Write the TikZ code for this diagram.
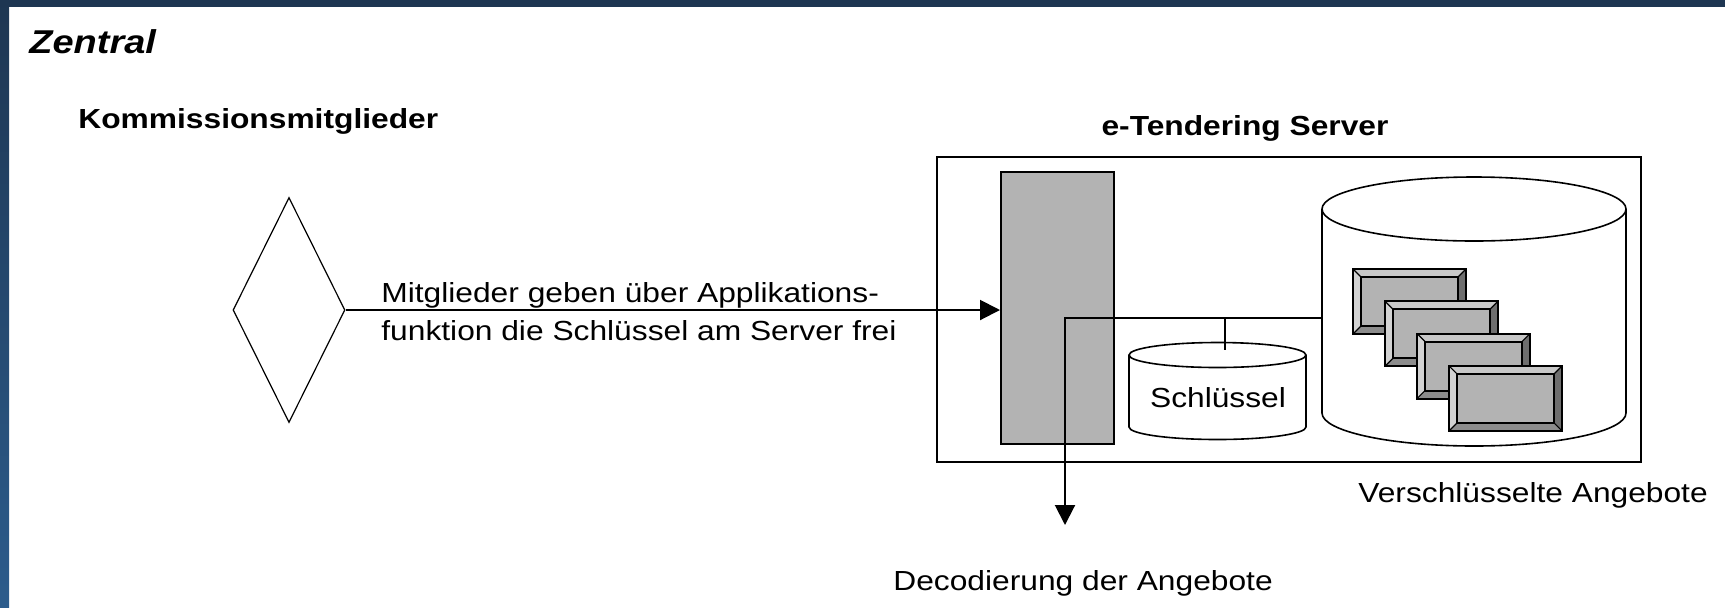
\documentclass[tikz,border=0pt]{standalone}
\usepackage{fontspec}
\setmainfont{Liberation Sans}[FakeStretch=1.15]
\usepackage{tikz}
\usetikzlibrary{arrows.meta,shapes.geometric}

\definecolor{framedark}{HTML}{1E3652}
\definecolor{framelight}{HTML}{2C5C8C}
\definecolor{bargray}{HTML}{B3B3B3}
\definecolor{doctop}{HTML}{C8C8C8}
\definecolor{docleft}{HTML}{D2D2D2}
\definecolor{docright}{HTML}{6E6E6E}
\definecolor{docbottom}{HTML}{8C8C8C}

\tikzset{
  lbl/.style={inner sep=0pt, font=\fontsize{13.8}{19}\selectfont},
  hdr/.style={inner sep=0pt, font=\fontsize{13.8}{16}\selectfont\bfseries},
  conn/.style={line width=1pt},
  tip/.style={-{Triangle[length=10pt,width=10pt]}},
  vessel/.style={line width=0.8pt, fill=white},
}

% one encrypted offer, top left corner at #1,#2
\newcommand\offerdoc[2]{%
  \begin{scope}[shift={(#1,#2)}]
    \fill[bargray] (8,8) rectangle (105,57);
    \fill[doctop] (0,0) -- (113,0) -- (105,8) -- (8,8) -- cycle;
    \fill[docleft] (0,0) -- (8,8) -- (8,57) -- (0,65) -- cycle;
    \fill[docright] (113,0) -- (113,65) -- (105,57) -- (105,8) -- cycle;
    \fill[docbottom] (0,65) -- (113,65) -- (105,57) -- (8,57) -- cycle;
    \draw[line width=0.9pt] (0,0) rectangle (113,65) (8,8) rectangle (105,57);
    \draw[line width=0.6pt] (0,0) -- (8,8) (113,0) -- (105,8) (113,65) -- (105,57) (0,65) -- (8,57);
  \end{scope}}

\begin{document}
\begin{tikzpicture}[x=0.5pt,y=-0.5pt]
    \useasboundingbox (0,0) rectangle (1725,607);
    \fill[white] (0,0) rectangle (1725,607);
    \shade[top color=framedark, bottom color=framelight] (0,0) rectangle (9,607);
    \fill[color=framedark] (0,0) rectangle (1725,7);

    \node[anchor=base west, inner sep=0pt, font=\fontsize{16.5}{18}\selectfont\bfseries\itshape] (title) at (29,53) {Zentral};
    \node[hdr, anchor=base west] (members) at (78,128) {Kommissionsmitglieder};
    \node[hdr, anchor=base] (srvtitle) at (1245,135) {e-Tendering Server};

    % Kommission
    \node[diamond, draw, line width=0.6pt, inner sep=0pt, minimum width=56pt, minimum height=112.5pt] (member) at (289,310) {};

    % server
    \node[draw, line width=1pt, minimum width=352pt, minimum height=152.5pt] (server) at (1289,309.5) {};
    \node[draw, line width=1pt, fill=bargray, minimum width=56.5pt, minimum height=136pt] (bar) at (1057.5,308) {};

    % store of offers
    \draw[vessel] (1322,209) -- (1322,413) arc[start angle=180, end angle=0, x radius=152, y radius=33] -- (1626,209);
    \draw[vessel] (1474,209) ellipse [x radius=152, y radius=32];
    \foreach \k in {0,...,3}
        \offerdoc{1353+32*\k}{269+32.3*\k};
    \coordinate (storewest) at (1322,318);

    % key store
    \draw[vessel] (1129,355) -- (1129,427) arc[start angle=180, end angle=0, x radius=88.5, y radius=12.5] -- (1306,355);
    \draw[vessel] (1217.5,355) ellipse [x radius=88.5, y radius=12.5];
    \node[lbl, anchor=base] (keys) at (1218,407) {Schlüssel};
    \coordinate (keytop) at (1225,350);

    % connectors
    \coordinate (junction) at (1065,318);
    \coordinate (keytap) at (1225,318);
    \coordinate (decodeout) at (1065,525);
    \draw[conn, tip] (member.east) -- (member.east -| bar.west);
    \draw[conn, tip] (storewest) -- (junction) -- (decodeout);
    \draw[conn] (keytap) -- (keytop);

    \node[lbl, anchor=base west, align=left] (release) at (381,340) {Mitglieder geben über Applikations-\\funktion die Schlüssel am Server frei};
    \node[lbl, anchor=base west] (offers) at (1358,502) {Verschlüsselte Angebote};
    \node[lbl, anchor=base west] (decode) at (893,590) {Decodierung der Angebote};
\end{tikzpicture}
\end{document}
